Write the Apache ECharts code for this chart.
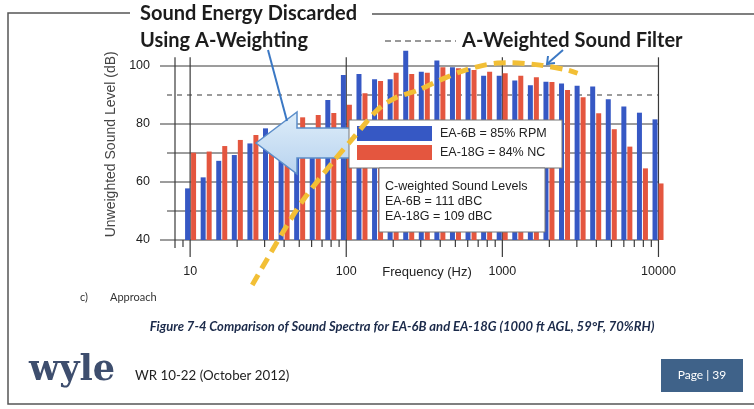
<!DOCTYPE html>
<html>
<head>
<meta charset="utf-8">
<script src="https://cdn.jsdelivr.net/npm/echarts@6/dist/echarts.min.js"></script>
<style>
  html, body { margin: 0; padding: 0; background: #fff; }
  #chart { width: 754px; height: 409px; }
</style>
</head>
<body>
<div id="chart"></div>
<script>
// One-third-octave band centres (Hz). '8' is the left edge of the frequency axis,
// '12500' only pads the right edge so the 10 kHz pair is not cut off.
const bands = ['8', '10', '12.5', '16', '20', '25', '31.5', '40', '50', '63', '80',
  '100', '125', '160', '200', '250', '315', '400', '500', '630', '800',
  '1000', '1250', '1600', '2000', '2500', '3150', '4000', '5000', '6300', '8000', '10000', '12500'];

// Unweighted band levels (dB)
const ea6bLevels = [null, 57.8, 61.6, 67.3, 69.3, 73.3, 78.5, 77, 78, 78, 88.3,
  96.9, 97.2, 95.4, 95.4, 105.3, 98.0, 101.9, 99.6, 99.2, 96.6,
  96.6, 95.0, 93.4, 94.6, 94.0, 93.2, 92.9, 88.5, 86.0, 83.9, 81.6, null];
const ea18gLevels = [null, 70.1, 70.5, 72.4, 74.5, 76.2, 75, 78, 82.3, 83.1, 83.8,
  86.6, 90.6, 94.8, 97.7, 97.2, 97.7, 99.6, 99.2, 98.6, 98.0,
  97.5, 96.6, 96.1, 94.5, 91.7, 89.2, 83.7, 78.2, 72.2, 64.7, 59.5, null];

// A-weighted filter shape, hand-placed over the spectra (Hz, dB)
const filterFreq = [25, 39.4, 53, 81.3, 111, 158, 206, 290, 401, 580, 929, 1125, 1750, 2610, 3030];
const filterLevel = [24.5, 42.8, 53.8, 66.6, 75.2, 84.8, 89, 91.7, 95.2, 98.6, 101, 101.1, 100.3, 98.6, 97.5];

// Axis furniture
const freqMin = 8, freqPad = 12500, freqMax = 10000;
const decadeFreqs = [10, 100, 1000, 10000];
const minorFreqs = [9, 20, 30, 40, 50, 60, 70, 80, 90, 200, 300, 400, 500, 600, 700, 800, 900,
  2000, 3000, 4000, 5000, 6000, 7000, 8000, 9000];
const levelGrid = [40, 50, 60, 70, 80, 90, 100];
const levelLabels = [40, 60, 80, 100];
const gridTop = 103;

const seriesNames = ['EA-6B = 85% RPM', 'EA-18G = 84% NC'];
const cweighted = ['C-weighted Sound Levels', 'EA-6B = 111 dBC', 'EA-18G = 109 dBC'];

const FONT = 'Liberation Sans, Arial, sans-serif';
const HEAD = 'Lato, "Open Sans", sans-serif';
const INK = '#3a3a3a';

const chart = echarts.init(document.getElementById('chart'), null, { renderer: 'canvas' });

const option = {
  animation: false,
  backgroundColor: '#fff',
  grid: { left: 175, right: 80.4, top: 48.6, height: 191.4 },
  xAxis: [
    {
      type: 'category', data: bands, boundaryGap: false, show: false
    },
    {
      type: 'log', min: freqMin, max: freqPad, logBase: 10, position: 'bottom',
      axisLine: { show: false }, axisTick: { show: false }, splitLine: { show: false },
      minorTick: { show: false },
      axisLabel: {
        margin: 25, fontSize: 12.5, color: '#222', fontFamily: FONT,
        formatter: v => decadeFreqs.includes(Math.round(v)) ? String(Math.round(v)) : ''
      }
    }
  ],
  yAxis: {
    type: 'value', min: 40, max: 106, interval: 10, startValue: 40,
    name: 'Unweighted Sound Level (dB)', nameLocation: 'middle', nameGap: 51,
    nameTextStyle: { fontSize: 14, color: '#444', fontFamily: FONT },
    axisLine: { show: false }, axisTick: { show: false }, splitLine: { show: false },
    axisLabel: {
      margin: 25, fontSize: 12.5, color: '#222', fontFamily: FONT,
      formatter: v => levelLabels.includes(v) ? String(v) : ''
    }
  },
  legend: {
    left: 357, top: 126, orient: 'vertical', z: 15,
    itemWidth: 75, itemHeight: 15, itemGap: 4, padding: 0, icon: 'rect',
    data: seriesNames,
    textStyle: { fontSize: 12.5, color: '#222', fontFamily: FONT, padding: [0, 0, 0, 3] }
  },
  series: [
    {
      // horizontal level grid, with short ticks left of the axis
      type: 'custom', xAxisIndex: 1, yAxisIndex: 0, z: 1, silent: true, clip: false,
      data: levelGrid.map(v => [freqMin, v]),
      renderItem: (params, api) => {
        const v = api.value(1);
        const a = api.coord([freqMin, v]);
        const b = api.coord([freqMax, v]);
        const major = levelLabels.includes(v);
        return {
          type: 'line',
          shape: { x1: a[0] - (major ? 15 : 8), y1: a[1], x2: b[0], y2: b[1] },
          style: { stroke: INK, lineWidth: 1, lineDash: v === 90 ? [5, 5] : null }
        };
      }
    },
    {
      // decade lines and the left edge line
      type: 'custom', xAxisIndex: 1, yAxisIndex: 0, z: 1, silent: true, clip: false,
      data: [freqMin].concat(decadeFreqs).map(f => [f, gridTop]),
      renderItem: (params, api) => {
        const f = api.value(0);
        const a = api.coord([f, gridTop]);
        const b = api.coord([f, 40]);
        return {
          type: 'line',
          shape: { x1: a[0], y1: a[1], x2: b[0], y2: b[1] + (f === freqMin ? 8 : 17) },
          style: { stroke: INK, lineWidth: 1.2 }
        };
      }
    },
    {
      // minor frequency ticks below the axis
      type: 'custom', xAxisIndex: 1, yAxisIndex: 0, z: 1, silent: true, clip: false,
      data: minorFreqs.map(f => [f, 40]),
      renderItem: (params, api) => {
        const b = api.coord([api.value(0), 40]);
        return {
          type: 'line',
          shape: { x1: b[0], y1: b[1], x2: b[0], y2: b[1] + 7 },
          style: { stroke: INK, lineWidth: 1.2 }
        };
      }
    },
    {
      name: seriesNames[0], type: 'bar', xAxisIndex: 0, yAxisIndex: 0,
      data: ea6bLevels, barWidth: 5, barGap: '20%', z: 2,
      itemStyle: { color: '#3658c4' }
    },
    {
      name: seriesNames[1], type: 'bar', xAxisIndex: 0, yAxisIndex: 0,
      data: ea18gLevels, barWidth: 5, barGap: '20%', z: 2,
      itemStyle: { color: '#e4563f' }
    },
    {
      name: 'A-Weighted Sound Filter', type: 'line', xAxisIndex: 1, yAxisIndex: 0,
      data: filterFreq.map((f, i) => [f, filterLevel[i]]),
      smooth: 0.3, showSymbol: false, symbol: 'none', clip: false, z: 20, silent: true,
      lineStyle: { color: '#f2bf36', width: 5, type: [12, 7], cap: 'butt' }
    }
  ],
  graphic: [
    // page frame, broken by the heading
    { type: 'polyline', z: 10, silent: true,
      shape: { points: [[130, 13], [8, 13], [8, 404], [754, 404]] },
      style: { stroke: '#555', lineWidth: 1.5, fill: null } },
    { type: 'line', z: 10, silent: true,
      shape: { x1: 372, y1: 14, x2: 754, y2: 14 }, style: { stroke: '#555', lineWidth: 1.5 } },

    { type: 'text', z: 10, x: 140, y: 14, silent: true,
      style: { text: 'Sound Energy Discarded', font: 'bold 20px ' + HEAD, fill: '#1c1c1c', verticalAlign: 'middle' } },
    { type: 'text', z: 10, x: 140, y: 41, silent: true,
      style: { text: 'Using A-Weighting', font: 'bold 20px ' + HEAD, fill: '#1c1c1c', verticalAlign: 'middle' } },
    { type: 'line', z: 10, silent: true,
      shape: { x1: 385, y1: 41, x2: 456, y2: 41 }, style: { stroke: '#777', lineWidth: 1.5, lineDash: [6, 4] } },
    { type: 'text', z: 10, x: 462, y: 41, silent: true,
      style: { text: 'A-Weighted Sound Filter', font: 'bold 20px ' + HEAD, fill: '#1c1c1c', verticalAlign: 'middle' } },

    // pointer from the heading to the discarded-energy arrow
    { type: 'line', z: 12, silent: true,
      shape: { x1: 268, y1: 50, x2: 287, y2: 121 }, style: { stroke: '#3b78c4', lineWidth: 2 } },
    // pointer to the filter curve
    { type: 'line', z: 12, silent: true,
      shape: { x1: 563, y1: 50, x2: 547, y2: 64 }, style: { stroke: '#3b78c4', lineWidth: 2 } },
    { type: 'polyline', z: 12, silent: true,
      shape: { points: [[548, 56], [547, 64], [555, 63]] }, style: { stroke: '#3b78c4', lineWidth: 2, fill: null } },

    // big block arrow
    { type: 'polygon', z: 11, silent: true,
      shape: { points: [[256, 143], [297, 112], [297, 128], [350, 128], [350, 158], [297, 158], [297, 174]] },
      style: {
        fill: new echarts.graphic.LinearGradient(0, 0, 0, 1, [
          { offset: 0, color: '#deedf9' }, { offset: 1, color: '#b8d3ef' }
        ]),
        stroke: '#5b8dc9', lineWidth: 1.5
      } },

    // legend and C-weighted boxes
    { type: 'rect', z: 11, silent: true,
      shape: { x: 349, y: 120, width: 213, height: 48 }, style: { fill: '#fff', stroke: '#777', lineWidth: 1 } },
    { type: 'rect', z: 11, silent: true,
      shape: { x: 379, y: 168, width: 166, height: 64 }, style: { fill: '#fff', stroke: '#777', lineWidth: 1 } },
    { type: 'text', z: 12, x: 385, y: 187, silent: true,
      style: { text: cweighted[0], font: '12.5px ' + FONT, fill: '#222', verticalAlign: 'middle' } },
    { type: 'text', z: 12, x: 385, y: 202, silent: true,
      style: { text: cweighted[1], font: '12.5px ' + FONT, fill: '#222', verticalAlign: 'middle' } },
    { type: 'text', z: 12, x: 385, y: 217, silent: true,
      style: { text: cweighted[2], font: '12.5px ' + FONT, fill: '#222', verticalAlign: 'middle' } },

    { type: 'text', z: 10, x: 427, y: 272, silent: true,
      style: { text: 'Frequency (Hz)', font: '13px ' + FONT, fill: '#222', align: 'center', verticalAlign: 'middle' } },

    // page footer
    { type: 'text', z: 10, x: 80, y: 297, silent: true,
      style: { text: 'c)', font: '11px ' + HEAD, fill: '#333', verticalAlign: 'middle' } },
    { type: 'text', z: 10, x: 110, y: 297, silent: true,
      style: { text: 'Approach', font: '11px ' + HEAD, fill: '#333', verticalAlign: 'middle' } },
    { type: 'text', z: 10, x: 402, y: 327, silent: true,
      style: { text: 'Figure 7-4 Comparison of Sound Spectra for EA-6B and EA-18G (1000 ft AGL, 59°F, 70%RH)',
        font: 'italic bold 13px ' + HEAD, fill: '#1b2a4a', align: 'center', verticalAlign: 'middle' } },
    { type: 'text', z: 10, x: 29, y: 371, silent: true,
      style: { text: 'wyle', font: 'bold 35px "DejaVu Serif", serif', fill: '#3e4e6e', verticalAlign: 'middle' } },
    { type: 'text', z: 10, x: 135, y: 376, silent: true,
      style: { text: 'WR 10-22 (October 2012)', font: '13.3px ' + HEAD, fill: '#222', verticalAlign: 'middle' } },
    { type: 'rect', z: 10, silent: true,
      shape: { x: 661, y: 359, width: 82, height: 33 }, style: { fill: '#3f6289' } },
    { type: 'text', z: 11, x: 702, y: 375.5, silent: true,
      style: { text: 'Page | 39', font: '12px ' + HEAD, fill: '#fff', align: 'center', verticalAlign: 'middle' } }
  ]
};

chart.setOption(option);
</script>
</body>
</html>
